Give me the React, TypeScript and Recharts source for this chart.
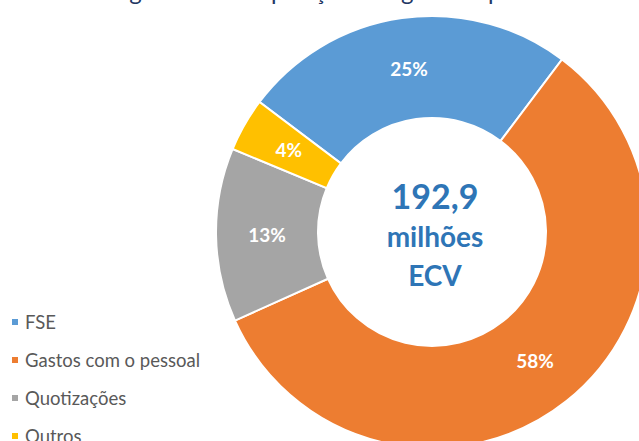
import { PieChart, Pie, Cell, Legend } from 'recharts';

const categories = ['FSE', 'Gastos com o pessoal', 'Quotizações', 'Outros'];
const shares = [25, 58, 13, 4];
const colors = ['#5B9BD5', '#ED7D31', '#A5A5A5', '#FFC000'];
const totalLines = ['192,9', 'milhões', 'ECV'];
const title = 'Figura 5 – Composição dos gastos operacionais';

const data = categories.map((name, i) => ({ name, value: shares[i] }));

const RADIAN = Math.PI / 180;

function SliceLabel(props: any) {
  const { cx, cy, midAngle, innerRadius, outerRadius, value } = props;
  const r = (innerRadius + outerRadius) / 2;
  const x = cx + r * Math.cos(-midAngle * RADIAN);
  const y = cy + r * Math.sin(-midAngle * RADIAN);
  return (
    <text x={x} y={y} fill="#fff" textAnchor="middle" dominantBaseline="central"
      style={{ fontFamily: 'Lato', fontWeight: 700, fontSize: 19 }}>
      {value}%
    </text>
  );
}

function LegendList() {
  return (
    <div style={{ fontFamily: 'Lato', fontSize: 18.5, color: '#595959' }}>
      {categories.map((c, i) => (
        <div key={c} style={{ height: 38, display: 'flex', alignItems: 'center' }}>
          <span style={{ width: 6, height: 6, background: colors[i], marginLeft: 12, marginRight: 7, display: 'inline-block' }} />
          {c}
        </div>
      ))}
    </div>
  );
}

export default function App() {
  return (
    <div style={{ position: 'absolute', left: 0, top: 0, width: 639, height: 441, overflow: 'hidden', background: '#fff' }}>
      <div style={{ position: 'absolute', left: 110, top: -21, fontFamily: 'Lato', fontSize: 24, lineHeight: '24px', color: '#1F3864', whiteSpace: 'nowrap' }}>
        {title}
      </div>
      <PieChart width={639} height={441} margin={{ top: 0, right: 0, bottom: 0, left: 0 }}>
        <Pie
          data={data}
          dataKey="value"
          nameKey="name"
          cx={432}
          cy={232}
          innerRadius={114}
          outerRadius={216}
          startAngle={143}
          endAngle={-217}
          stroke="#fff"
          strokeWidth={2}
          label={SliceLabel}
          labelLine={false}
          isAnimationActive={false}
        >
          {data.map((d, i) => (
            <Cell key={d.name} fill={colors[i]} />
          ))}
        </Pie>
        <Legend content={LegendList} layout="vertical" wrapperStyle={{ left: 0, top: 303, width: 240 }} />
      </PieChart>
      <div style={{ position: 'absolute', left: 335, top: 175, width: 200, textAlign: 'center', fontFamily: 'Lato', fontWeight: 700, color: '#2E75B6' }}>
        <div style={{ fontSize: 34, lineHeight: '42px' }}>{totalLines[0]}</div>
        <div style={{ fontSize: 28, lineHeight: '38px' }}>{totalLines[1]}</div>
        <div style={{ fontSize: 28, lineHeight: '40px' }}>{totalLines[2]}</div>
      </div>
    </div>
  );
}
